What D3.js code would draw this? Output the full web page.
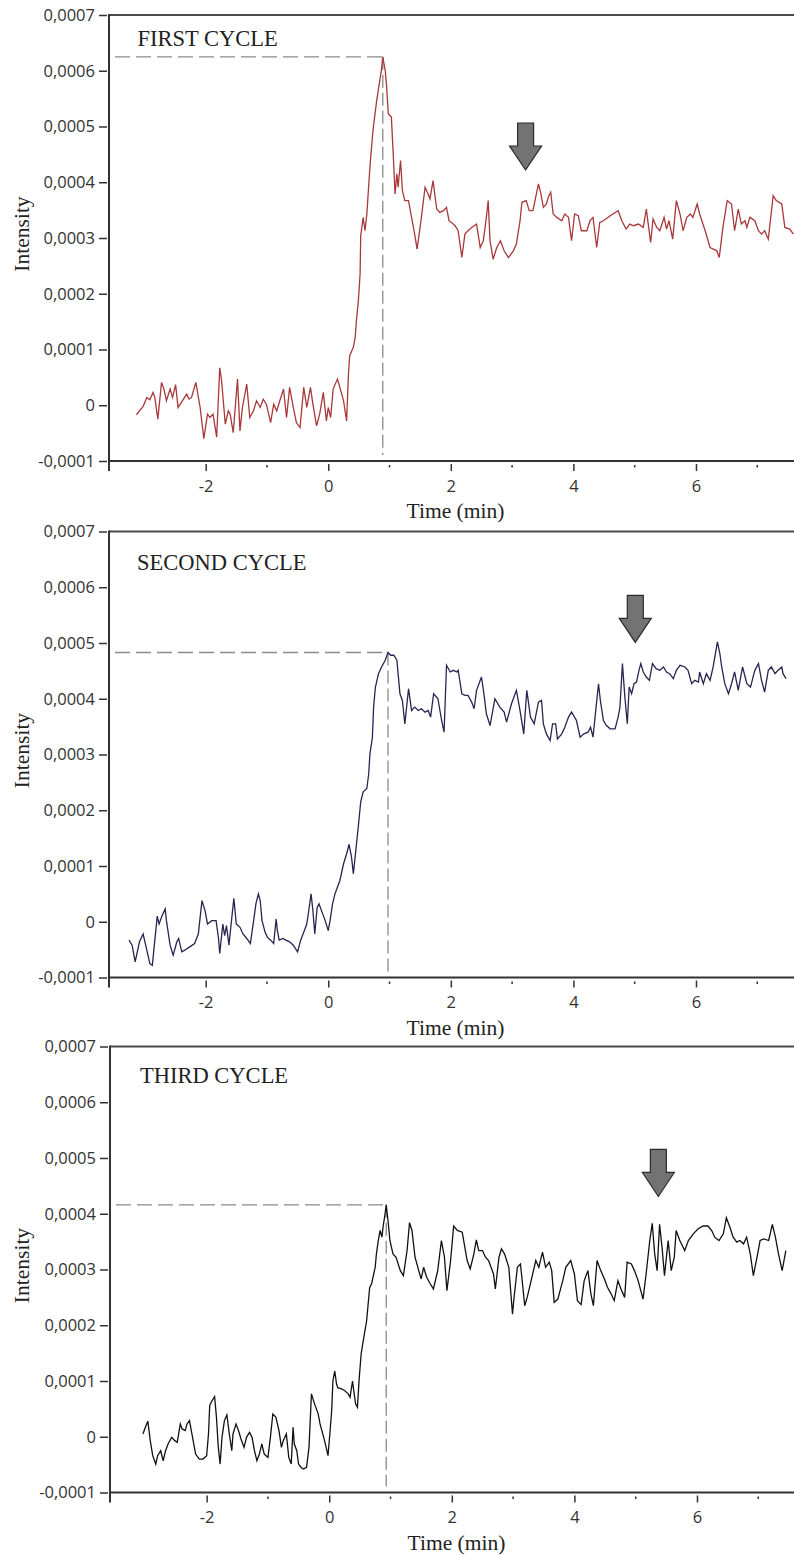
<!DOCTYPE html>
<html>
<head>
<meta charset="utf-8">
<script src="https://cdn.jsdelivr.net/npm/d3@7"></script>
<style>
  html, body { margin: 0; padding: 0; background: #fff; }
  svg { display: block; }
</style>
</head>
<body>
<svg id="chart" width="794" height="1555"></svg>
<script>
// Intensity values are listed in units of 1e-4 (multiplied by INTENSITY_UNIT when plotted).
const INTENSITY_UNIT = 1e-4;

const cycleTitles = ["FIRST CYCLE", "SECOND CYCLE", "THIRD CYCLE"];
const cycleColors = ["#a8383a", "#2c2350", "#111111"];

// Time axis (min) and intensity axis tick values
const timeTicksMajor = [-2, 0, 2, 4, 6];
const timeTicksMinor = [-1, 1, 3, 5, 7];
const intensityTicks = [-0.0001, 0, 0.0001, 0.0002, 0.0003, 0.0004, 0.0005, 0.0006, 0.0007];

// Peak reference (time, intensity) and arrow position for each cycle
const peakTime = [0.89, 0.975, 0.93];
const peakIntensity = [6.25, 4.83, 4.16];
const arrowTime = [3.22, 5.01, 5.37];
const arrowIntensity = [4.22, 5.01, 4.31];

// ---------- FIRST CYCLE ----------
const cycle1Time = [
  -3.13,-3.02,-2.96,-2.91,-2.86,-2.83,-2.78,-2.72,-2.68,-2.64,-2.58,-2.54,-2.49,-2.45,-2.38,-2.31,-2.27,-2.23,-2.16,-2.09,
  -2.03,-1.97,-1.93,-1.88,-1.82,-1.77,-1.74,-1.68,-1.63,-1.60,-1.55,-1.48,-1.44,-1.40,-1.33,-1.28,-1.22,-1.17,-1.11,-1.06,
  -1.01,-0.94,-0.89,-0.84,-0.79,-0.73,-0.68,-0.63,-0.57,-0.52,-0.46,-0.40,-0.35,-0.29,-0.25,-0.19,-0.14,-0.08,-0.03,0.00,
  0.04,0.08,0.15,0.19,0.25,0.30,0.33,0.35,0.41,0.44,0.46,0.49,0.52,0.53,0.57,0.60,0.63,0.68,0.73,0.79,
  0.84,0.87,0.89,0.93,0.95,0.98,1.03,1.06,1.09,1.12,1.14,1.18,1.21,1.25,1.31,1.36,1.41,1.45,1.52,1.58,
  1.63,1.66,1.71,1.77,1.82,1.88,1.93,1.97,2.01,2.07,2.12,2.18,2.23,2.28,2.34,2.42,2.48,2.53,2.58,2.61,
  2.64,2.69,2.75,2.81,2.87,2.94,3.02,3.07,3.13,3.16,3.23,3.28,3.34,3.43,3.47,3.51,3.56,3.59,3.63,3.67,
  3.73,3.81,3.86,3.92,3.97,4.02,4.08,4.13,4.22,4.27,4.32,4.38,4.43,4.49,4.60,4.73,4.79,4.86,4.92,4.98,
  5.06,5.14,5.19,5.26,5.30,5.36,5.41,5.48,5.52,5.56,5.62,5.68,5.74,5.79,5.85,5.91,5.95,6.02,6.06,6.15,
  6.23,6.34,6.38,6.44,6.51,6.58,6.63,6.69,6.74,6.80,6.83,6.88,6.96,7.02,7.07,7.12,7.18,7.26,7.31,7.40,
  7.45,7.53,7.59
];
const cycle1Intensity = [
  -0.17,-0.02,0.14,0.10,0.23,0.14,-0.25,0.41,0.29,0.08,0.29,0.14,0.37,-0.04,0.08,0.20,0.11,0.14,0.41,-0.04,
  -0.60,-0.16,-0.22,-0.16,-0.57,0.67,0.44,-0.34,-0.10,-0.16,-0.49,0.47,-0.46,-0.04,0.38,-0.22,-0.10,0.08,-0.04,0.11,
  0.02,-0.31,0.02,-0.10,0.08,0.29,-0.22,0.32,-0.04,-0.31,-0.40,0.32,-0.04,0.32,0.02,-0.37,-0.16,0.23,-0.28,-0.04,
  -0.22,0.29,0.47,0.32,0.08,-0.28,0.56,0.89,1.04,1.22,1.52,1.85,2.36,3.04,3.37,3.13,3.43,4.27,4.93,5.46,
  5.82,6.03,6.25,6.00,5.76,5.23,5.17,4.51,3.79,4.15,3.91,4.39,3.85,3.67,3.67,3.37,3.07,2.80,3.37,3.91,
  3.79,3.70,4.03,3.52,3.46,3.49,3.55,3.31,3.28,3.22,3.13,2.65,3.07,3.13,3.19,3.25,2.83,2.95,3.37,3.67,
  2.95,2.62,2.83,2.95,2.77,2.65,2.77,2.89,3.31,3.64,3.67,3.49,3.49,3.97,3.79,3.55,3.61,3.73,3.82,3.43,
  3.37,3.31,3.43,3.37,2.95,3.43,3.40,3.13,3.13,3.31,3.37,2.83,3.28,3.31,3.40,3.49,3.31,3.16,3.25,3.22,
  3.25,3.19,3.52,2.92,3.34,3.19,3.13,3.37,3.16,3.31,2.98,3.67,3.43,3.13,3.37,3.43,3.37,3.61,3.43,3.13,
  2.83,2.77,2.65,3.19,3.67,3.61,3.13,3.52,3.25,3.31,3.19,3.37,3.31,3.13,3.07,3.13,2.98,3.76,3.67,3.61,
  3.19,3.16,3.07
];

// ---------- SECOND CYCLE ----------
const cycle2Time = [
  -3.25,-3.20,-3.15,-3.08,-3.02,-2.96,-2.91,-2.87,-2.84,-2.79,-2.76,-2.71,-2.66,-2.64,-2.58,-2.53,-2.47,-2.44,-2.39,-2.34,
  -2.26,-2.18,-2.12,-2.06,-2.01,-1.97,-1.90,-1.83,-1.79,-1.77,-1.72,-1.69,-1.66,-1.62,-1.59,-1.54,-1.50,-1.44,-1.39,-1.33,
  -1.27,-1.21,-1.18,-1.14,-1.11,-1.08,-1.03,-0.99,-0.94,-0.89,-0.85,-0.83,-0.80,-0.74,-0.69,-0.63,-0.57,-0.50,-0.45,-0.40,
  -0.35,-0.31,-0.28,-0.25,-0.22,-0.18,-0.15,-0.11,-0.05,0.00,0.03,0.07,0.11,0.15,0.19,0.25,0.30,0.34,0.38,0.41,
  0.45,0.49,0.53,0.57,0.63,0.66,0.68,0.72,0.74,0.77,0.82,0.87,0.93,0.975,1.02,1.07,1.12,1.17,1.21,1.25,
  1.31,1.36,1.41,1.47,1.52,1.58,1.63,1.67,1.72,1.79,1.85,1.89,1.93,1.99,2.04,2.10,2.12,2.18,2.23,2.28,
  2.34,2.38,2.42,2.50,2.54,2.58,2.64,2.72,2.80,2.87,2.91,2.99,3.07,3.12,3.19,3.24,3.30,3.36,3.43,3.48,
  3.51,3.56,3.62,3.66,3.71,3.74,3.81,3.86,3.92,3.97,4.05,4.11,4.17,4.24,4.28,4.32,4.37,4.41,4.44,4.49,
  4.54,4.60,4.68,4.73,4.76,4.80,4.84,4.88,4.91,4.95,4.99,5.03,5.07,5.10,5.14,5.19,5.24,5.29,5.35,5.41,
  5.47,5.52,5.57,5.63,5.68,5.74,5.82,5.87,5.93,5.98,6.04,6.06,6.12,6.17,6.23,6.28,6.35,6.39,6.42,6.47,
  6.53,6.58,6.63,6.69,6.76,6.83,6.89,6.96,7.02,7.07,7.12,7.18,7.23,7.29,7.34,7.40,7.42,7.47
];
const cycle2Intensity = [
  -0.33,-0.42,-0.72,-0.36,-0.22,-0.51,-0.75,-0.78,-0.45,0.10,-0.04,0.11,0.23,0.02,-0.42,-0.60,-0.36,-0.30,-0.54,-0.51,
  -0.45,-0.39,-0.22,0.38,0.20,-0.04,0.02,0.02,-0.30,-0.57,-0.04,-0.25,-0.07,-0.42,-0.10,0.42,-0.04,-0.10,-0.22,-0.30,
  -0.39,0.08,0.32,0.50,0.38,0.02,-0.19,-0.28,-0.33,-0.39,0.05,-0.16,-0.33,-0.30,-0.33,-0.36,-0.42,-0.54,-0.33,-0.19,
  -0.04,0.26,0.50,0.20,-0.22,0.26,0.32,0.20,0.02,-0.16,0.02,0.32,0.50,0.62,0.74,1.04,1.22,1.39,1.16,0.86,
  1.28,1.70,2.15,2.33,2.39,2.65,3.01,3.30,3.85,4.21,4.45,4.57,4.69,4.83,4.78,4.78,4.69,4.09,3.97,3.55,
  4.18,3.79,3.85,3.79,3.82,3.76,3.79,3.67,4.09,4.00,3.61,3.40,4.60,4.48,4.51,4.48,4.51,4.09,4.06,4.06,
  3.94,3.82,4.15,4.39,4.09,3.73,3.52,4.00,3.85,3.76,3.58,3.91,4.15,3.85,3.37,4.15,3.67,3.55,3.94,3.97,
  3.55,3.37,3.25,3.55,3.55,3.28,3.37,3.49,3.67,3.76,3.61,3.31,3.37,3.40,3.49,3.31,3.85,4.27,3.97,3.61,
  3.52,3.46,3.46,3.67,3.85,4.63,4.03,3.55,4.21,4.09,4.27,4.30,4.51,4.63,4.48,4.39,4.33,4.63,4.54,4.51,
  4.57,4.48,4.45,4.36,4.51,4.60,4.57,4.51,4.27,4.33,4.30,4.48,4.27,4.45,4.33,4.57,5.02,4.81,4.57,4.27,
  4.09,4.27,4.48,4.15,4.57,4.27,4.21,4.51,4.63,4.33,4.12,4.51,4.57,4.45,4.51,4.57,4.45,4.36
];

// ---------- THIRD CYCLE ----------
const cycle3Time = [
  -3.04,-3.00,-2.96,-2.92,-2.88,-2.83,-2.80,-2.75,-2.71,-2.67,-2.63,-2.57,-2.52,-2.48,-2.43,-2.40,-2.35,-2.32,-2.28,-2.23,
  -2.18,-2.12,-2.06,-2.00,-1.97,-1.95,-1.91,-1.87,-1.84,-1.81,-1.78,-1.75,-1.71,-1.67,-1.63,-1.59,-1.57,-1.52,-1.48,-1.44,
  -1.39,-1.35,-1.30,-1.26,-1.22,-1.18,-1.14,-1.10,-1.06,-1.00,-0.96,-0.92,-0.87,-0.82,-0.78,-0.75,-0.70,-0.66,-0.62,-0.59,
  -0.57,-0.53,-0.50,-0.46,-0.42,-0.37,-0.33,-0.29,-0.24,-0.18,-0.15,-0.09,-0.05,-0.02,0.01,0.04,0.06,0.09,0.12,0.14,
  0.20,0.25,0.31,0.34,0.38,0.40,0.43,0.46,0.49,0.52,0.55,0.61,0.65,0.66,0.69,0.75,0.77,0.80,0.83,0.86,
  0.88,0.91,0.93,0.96,0.99,1.04,1.09,1.16,1.21,1.27,1.31,1.35,1.40,1.46,1.50,1.54,1.59,1.65,1.70,1.77,
  1.83,1.88,1.92,1.98,2.03,2.09,2.17,2.25,2.30,2.36,2.40,2.44,2.50,2.55,2.60,2.68,2.71,2.77,2.81,2.86,
  2.93,2.99,3.01,3.07,3.12,3.19,3.23,3.32,3.37,3.42,3.48,3.53,3.59,3.63,3.67,3.73,3.81,3.86,3.94,4.00,
  4.05,4.11,4.16,4.22,4.27,4.31,4.37,4.43,4.49,4.54,4.60,4.65,4.71,4.76,4.82,4.86,4.93,4.98,5.04,5.12,
  5.17,5.23,5.27,5.31,5.35,5.39,5.43,5.47,5.53,5.58,5.63,5.66,5.72,5.80,5.86,5.94,6.02,6.10,6.18,6.24,
  6.29,6.36,6.43,6.48,6.54,6.59,6.65,6.70,6.76,6.81,6.87,6.92,6.98,7.03,7.09,7.17,7.23,7.28,7.33,7.39,
  7.41,7.45
];
const cycle3Intensity = [
  0.05,0.17,0.28,-0.07,-0.34,-0.49,-0.34,-0.25,-0.43,-0.25,-0.13,-0.01,-0.07,-0.10,0.23,0.14,0.11,0.23,0.29,-0.01,
  -0.31,-0.40,-0.40,-0.34,0.05,0.56,0.65,0.72,0.35,-0.19,-0.49,-0.01,0.29,0.39,0.05,-0.25,0.05,0.23,0.11,-0.04,
  -0.19,-0.01,0.08,-0.01,-0.25,-0.43,-0.31,-0.13,-0.31,-0.37,-0.01,0.41,0.35,0.11,-0.19,-0.07,0.05,-0.37,-0.49,0.17,
  -0.13,-0.25,-0.49,-0.55,-0.58,-0.55,-0.19,0.77,0.59,0.41,0.23,-0.01,-0.19,-0.34,0.05,0.47,1.00,1.18,0.94,0.88,
  0.86,0.83,0.77,0.71,1.00,0.83,0.59,0.53,1.06,1.48,1.69,2.08,2.56,2.68,2.74,3.04,3.28,3.52,3.70,3.58,
  3.78,3.99,4.16,3.87,3.52,3.28,3.22,2.98,2.89,3.34,3.84,3.70,3.22,2.98,2.83,3.04,2.86,2.74,2.65,2.98,
  3.52,3.22,2.62,3.16,3.78,3.70,3.67,3.16,3.01,3.28,3.53,3.34,3.34,3.22,3.16,2.92,2.65,3.22,3.37,3.28,
  3.04,2.20,2.44,3.04,3.10,2.35,2.50,2.92,3.16,3.04,3.31,3.04,3.13,2.98,2.41,2.47,2.80,3.04,3.16,2.92,
  2.44,2.37,2.80,2.98,2.56,2.35,3.16,2.98,2.83,2.68,2.56,2.44,2.80,2.65,2.50,3.13,3.10,2.98,2.80,2.47,
  2.92,3.52,3.83,3.28,2.98,3.81,3.40,2.89,3.52,2.98,3.22,3.70,3.52,3.34,3.52,3.64,3.73,3.78,3.78,3.70,
  3.58,3.52,3.64,3.93,3.75,3.58,3.49,3.52,3.46,3.58,3.28,2.89,3.22,3.52,3.55,3.52,3.81,3.58,3.28,2.98,
  3.10,3.34
];

const cycleTimes = [cycle1Time, cycle2Time, cycle3Time];
const cycleIntensities = [cycle1Intensity, cycle2Intensity, cycle3Intensity];

// ---------- layout ----------
const panelTops = [15, 531.5, 1046.5];
const panelShift = [0, 0, 1];
const titleDx = [28.5, 28, 30];
const titleDy = [31, 38.5, 36];
const plotHeight = 446;
const plotLeft = 109;
const plotRight = 802;

const svg = d3.select("#chart");
const sansFont = "'Open Sans', 'Noto Sans', sans-serif";
const serifFont = "'Liberation Serif', 'Times New Roman', serif";
const fmt = v => Math.abs(v) < 1e-12 ? "0" : v.toFixed(4).replace(".", ",");

cycleTitles.forEach((title, i) => {
  const top = panelTops[i];
  const bottom = top + plotHeight;
  const left = plotLeft + panelShift[i];
  const right = plotRight + panelShift[i];

  const x = d3.scaleLinear().domain([-3.577, 7.73]).range([left, right]);
  const y = d3.scaleLinear().domain([-0.0001, 0.0007]).range([bottom, top]);

  const g = svg.append("g");

  // clip region for the trace
  const clipId = "clip" + i;
  g.append("clipPath").attr("id", clipId)
    .append("rect").attr("x", left).attr("y", top).attr("width", right - left).attr("height", plotHeight);

  // frame: top border, left and bottom axis lines
  g.append("line").attr("x1", left).attr("x2", right).attr("y1", top).attr("y2", top)
    .attr("stroke", "#4a4a4a").attr("stroke-width", 2);
  g.append("line").attr("x1", left).attr("x2", left).attr("y1", top - 1).attr("y2", bottom + 10)
    .attr("stroke", "#333").attr("stroke-width", 2);
  g.append("line").attr("x1", left).attr("x2", right).attr("y1", bottom).attr("y2", bottom)
    .attr("stroke", "#333").attr("stroke-width", 2);

  // y axis ticks and labels
  const yAxis = d3.axisLeft(y).tickValues(intensityTicks).tickSize(8).tickPadding(4).tickFormat(fmt);
  const ya = g.append("g").attr("transform", `translate(${left - 2},0)`).call(yAxis);
  ya.select(".domain").remove();
  ya.selectAll(".tick line").attr("stroke", "#333").attr("stroke-width", 1.5);
  ya.selectAll(".tick text").attr("font-family", sansFont).attr("font-size", 16.5).attr("fill", "#333");

  // x axis major ticks and labels
  const xAxis = d3.axisBottom(x).tickValues(timeTicksMajor).tickSize(7).tickPadding(9).tickFormat(d3.format("d"));
  const xa = g.append("g").attr("transform", `translate(0,${bottom + 3})`).call(xAxis);
  xa.select(".domain").remove();
  xa.selectAll(".tick line").attr("stroke", "#333").attr("stroke-width", 1.5);
  xa.selectAll(".tick text").attr("font-family", sansFont).attr("font-size", 16.5).attr("fill", "#333")
    .text(d => d < 0 ? "-" + Math.abs(d) : d);

  // x axis minor ticks
  g.selectAll(".minor").data(timeTicksMinor).join("line")
    .attr("x1", d => x(d)).attr("x2", d => x(d))
    .attr("y1", bottom + 4).attr("y2", bottom + 6.5)
    .attr("stroke", "#333").attr("stroke-width", 1.5);

  // axis titles
  g.append("text").attr("x", (left + right) / 2).attr("y", bottom + 57)
    .attr("text-anchor", "middle").attr("font-family", serifFont).attr("font-size", 21.5).attr("fill", "#222")
    .text("Time (min)");
  g.append("text").attr("transform", `translate(28.5,${(top + bottom) / 2 - 4}) rotate(-90)`)
    .attr("text-anchor", "middle").attr("font-family", serifFont).attr("font-size", 21.5).attr("fill", "#222")
    .text("Intensity");

  // cycle title
  g.append("text").attr("x", left + titleDx[i]).attr("y", top + titleDy[i])
    .attr("font-family", serifFont).attr("font-size", 22.5).attr("fill", "#222")
    .text(title);

  // peak reference lines
  const px = x(peakTime[i]);
  const py = y(peakIntensity[i] * INTENSITY_UNIT);
  g.append("line").attr("x1", left + 6).attr("x2", px).attr("y1", py).attr("y2", py)
    .attr("stroke", "#8a8a8a").attr("stroke-width", 1.3).attr("stroke-dasharray", "15,6");
  g.append("line").attr("x1", px).attr("x2", px).attr("y1", py).attr("y2", bottom - 6)
    .attr("stroke", "#8a8a8a").attr("stroke-width", 1.3).attr("stroke-dasharray", "13,5");

  // intensity trace
  const pts = cycleTimes[i].map((t, k) => [t, cycleIntensities[i][k] * INTENSITY_UNIT]);
  const line = d3.line().x(d => x(d[0])).y(d => y(d[1]));
  g.append("path").datum(pts).attr("d", line)
    .attr("clip-path", `url(#${clipId})`)
    .attr("fill", "none").attr("stroke", cycleColors[i]).attr("stroke-width", 1.3)
    .attr("stroke-linejoin", "miter");

  // downward arrow marking the second event
  const ax = x(arrowTime[i]);
  const ay = y(arrowIntensity[i] * INTENSITY_UNIT);
  const arrow = [
    [ax - 8, ay - 47], [ax + 8, ay - 47], [ax + 8, ay - 24], [ax + 16, ay - 24],
    [ax, ay], [ax - 16, ay - 24], [ax - 8, ay - 24]
  ];
  g.append("path").attr("d", "M" + arrow.map(p => p.join(",")).join("L") + "Z")
    .attr("fill", "#737373").attr("stroke", "#2a2a2a").attr("stroke-width", 1.2)
    .attr("stroke-linejoin", "miter");
});
</script>
</body>
</html>
